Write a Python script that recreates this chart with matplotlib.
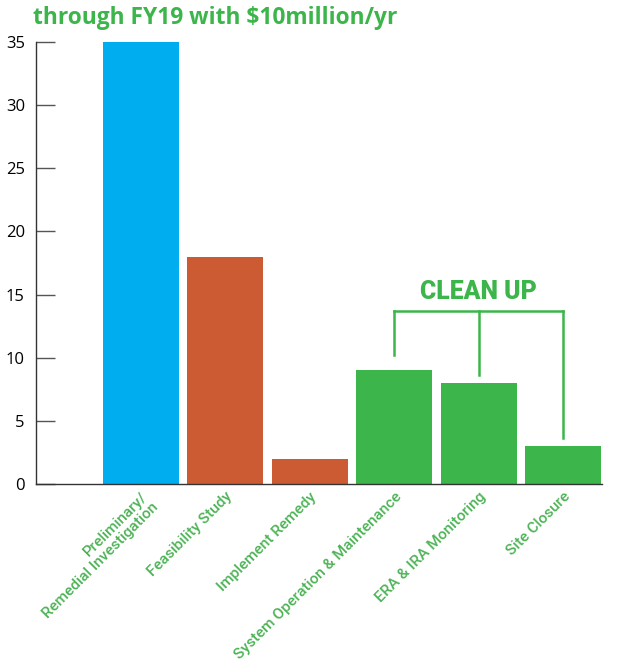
import matplotlib
matplotlib.use("Agg")
import matplotlib.pyplot as plt

# data
phases = ["Preliminary/\nRemedial Investigation", "Feasibility Study", "Implement Remedy",
          "System Operation & Maintenance", "ERA & IRA Monitoring", "Site Closure"]
values = [35, 18, 2, 9, 8, 3]
colors = ["#00AEEF", "#CC5B33", "#CC5B33", "#3CB54A", "#3CB54A", "#3CB54A"]
yticks = [0, 5, 10, 15, 20, 25, 30, 35]
cleanup_idx = [3, 4, 5]
bracket_ends = [10.2, 8.6, 3.65]

GREEN = "#3CB54A"
LABEL_GREEN = "#4DB356"

fig = plt.figure(figsize=(6.21, 6.68), dpi=100)
ax = fig.add_axes([36 / 621, 184 / 668, 566 / 621, 442 / 668])

x = list(range(len(values)))
ax.bar(x, values, width=0.9, color=colors, zorder=2)

ax.set_xlim(-1.24, 5.46)
ax.set_ylim(0, 35)
ax.set_yticks(yticks)
ax.tick_params(axis="y", direction="in", length=14, width=1, color="#555555",
               labelsize=12, pad=8)
for lab in ax.get_yticklabels():
    lab.set_fontfamily(["Open Sans", "DejaVu Sans"])

# x labels: rotated, anchored at their top-right end just under each bar
ax.set_xticks(x)
ax.set_xticklabels(phases, rotation=45, ha="right", rotation_mode="anchor",
                   color=LABEL_GREEN, fontsize=11.1, fontweight="medium",
                   family=["Roboto", "DejaVu Sans"], linespacing=1.1)
ax.tick_params(axis="x", length=0, pad=4)
for lab in ax.get_xticklabels():
    lab.set_multialignment("right")

for s in ["top", "right"]:
    ax.spines[s].set_visible(False)
ax.spines["left"].set_color("#333333")
ax.spines["bottom"].set_color("#333333")
ax.spines["left"].set_linewidth(1)
ax.spines["bottom"].set_linewidth(1)

# CLEAN UP bracket
top = 13.7
ax.plot([cleanup_idx[0], cleanup_idx[-1]], [top, top], color=GREEN, lw=1.8, zorder=3)
for i, end in zip(cleanup_idx, bracket_ends):
    ax.plot([i, i], [top, end], color=GREEN, lw=1.8, zorder=3)
ax.text(cleanup_idx[1], 15.2, "CLEAN UP", color=GREEN, fontsize=17.8, fontweight="heavy",
        ha="center", va="center", family=["Roboto", "Liberation Sans"])

fig.text(33 / 621, 1 - 18 / 668, "through FY19 with $10million/yr", color=GREEN,
         fontsize=16.4, fontweight="bold", ha="left", va="center",
         family=["Open Sans", "DejaVu Sans"])

fig.savefig("out.png", dpi=100)
